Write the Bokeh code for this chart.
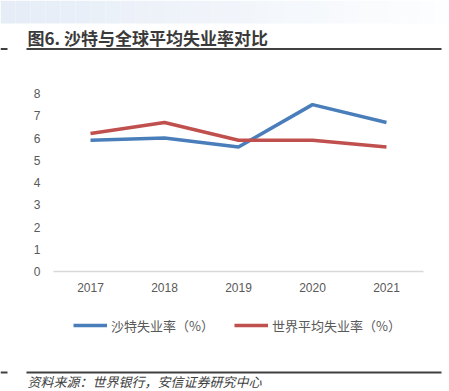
from bokeh.plotting import figure
from bokeh.models import Range1d, Legend, LegendItem, Label, ColumnDataSource, FixedTicker, LinearAxis
from bokeh.embed import file_html
from bokeh.resources import INLINE

years = ["2017", "2018", "2019", "2020", "2021"]
saudi = [5.9, 6.0, 5.6, 7.5, 6.7]
world = [6.2, 6.7, 5.9, 5.9, 5.6]
y_ticks = [0, 1, 2, 3, 4, 5, 6, 7, 8]

title_text = "图6. 沙特与全球平均失业率对比"
source_text = "资料来源：世界银行，安信证券研究中心"
saudi_name = "沙特失业率（%）"
world_name = "世界平均失业率（%）"

W, H = 449, 391
BLUE = "#4A7EBB"
RED = "#C0504D"
CJK = "Noto Sans CJK SC"

# plot-area geometry in pixels (decoration/layout only)
X0, XSTEP = 90.0, 74.0      # pixel of first category centre, category width
Y0, YSTEP = 271.0, 22.25    # pixel of value 0, pixels per unit

idx = list(range(len(years)))

p = figure(width=W, height=H,
           x_range=Range1d(-X0 / XSTEP, (W - X0) / XSTEP),
           y_range=Range1d((Y0 - H) / YSTEP, Y0 / YSTEP),
           x_axis_type=None, y_axis_type=None,
           toolbar_location=None, output_backend="svg",
           min_border=0, outline_line_color=None)
p.background_fill_color = "white"
p.border_fill_color = "white"
p.grid.visible = False
p.extra_x_ranges = {"px": Range1d(0, W)}
p.extra_y_ranges = {"px": Range1d(H, 0)}

# header banner (soft gradient strips)
n = 30
lefts = [W * i / n for i in range(n)]
rights = [W * (i + 1) / n for i in range(n)]
c0 = (0xE6, 0xED, 0xF7)
c1 = (0xFD, 0xFE, 0xFF)
cols = []
for i in range(n):
    t = i / (n - 1)
    cols.append("#%02x%02x%02x" % tuple(int(a + (b - a) * t) for a, b in zip(c0, c1)))
p.quad(left=lefts, right=rights, top=[0] * n, bottom=[23] * n, fill_color=cols,
       line_color=None, x_range_name="px", y_range_name="px")

# rules
p.segment(x0=[26, 0, 26, 0], y0=[48.5, 48.5, 372, 372], x1=[441, 7, 441, 7], y1=[48.5, 48.5, 372, 372],
          line_color="#404040", line_width=2, x_range_name="px", y_range_name="px")

p.add_layout(Label(x=27, y=36.5, text=title_text, text_font=CJK, text_font_size="17px",
                   text_font_style="bold", text_color="#3a3a3a", text_baseline="middle",
                   x_range_name="px", y_range_name="px"))
p.add_layout(Label(x=27, y=381, text=source_text, text_font=CJK, text_font_size="13px",
                   text_font_style="italic", text_color="#404040", text_baseline="middle",
                   x_range_name="px", y_range_name="px"))

# data
src = ColumnDataSource(dict(x=idx, saudi=saudi, world=world))
r1 = p.line("x", "saudi", source=src, line_color=BLUE, line_width=3.5)
r2 = p.line("x", "world", source=src, line_color=RED, line_width=3.5)

# axes
xaxis = LinearAxis(ticker=FixedTicker(ticks=idx),
                   major_label_overrides={i: y for i, y in zip(idx, years)},
                   fixed_location=0, bounds=(-0.5, len(years) - 0.5))
xaxis.axis_line_color = "#D9D9D9"
xaxis.axis_line_width = 1.5
xaxis.major_tick_line_color = None
xaxis.minor_tick_line_color = None
xaxis.major_label_standoff = 5
yaxis = LinearAxis(ticker=FixedTicker(ticks=y_ticks), fixed_location=-0.5)
yaxis.axis_line_color = None
yaxis.major_tick_line_color = None
yaxis.minor_tick_line_color = None
yaxis.major_label_standoff = 7
for ax in (xaxis, yaxis):
    ax.major_label_text_font = "Liberation Sans"
    ax.major_label_text_font_size = "12px"
    ax.major_label_text_color = "#595959"
p.add_layout(xaxis, "below")
p.add_layout(yaxis, "left")

legend = Legend(items=[LegendItem(label=saudi_name, renderers=[r1]),
                       LegendItem(label=world_name, renderers=[r2])],
                orientation="horizontal", location=(73, 56),
                glyph_width=34, glyph_height=20, label_standoff=4, spacing=20,
                padding=0, margin=0, border_line_color=None, background_fill_alpha=0,
                label_text_font=CJK, label_text_font_size="13px", label_text_color="#595959")
p.add_layout(legend, "center")

html = file_html(p, INLINE)
html = html.replace("<head>", "<head><style>html,body{margin:0!important;padding:0;overflow:hidden;}</style>", 1)
open("out.html", "w").write(html)
